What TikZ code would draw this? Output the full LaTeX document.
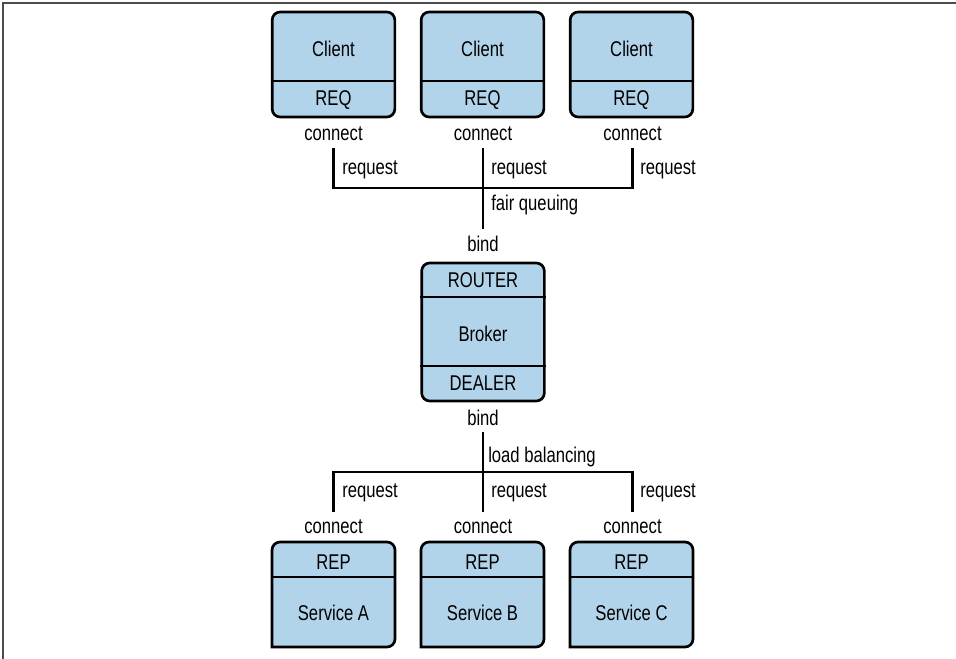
\documentclass[tikz,border=0pt]{standalone}
\usepackage{fontspec}
\setmainfont{Liberation Sans}[FakeStretch=0.78]
\usetikzlibrary{positioning, calc}
\definecolor{sockblue}{RGB}{178,212,234}
\tikzset{
  sockbox/.style={
    rectangle, rounded corners=6pt, draw=black, fill=sockblue,
    line width=2pt, minimum width=92pt
  },
  divider/.style={line width=2pt},
  wire/.style={line width=1.8pt},
  txt/.style={font=\fontsize{16}{18}\selectfont, inner sep=0pt, anchor=base},
  portlbl/.style={txt, inner xsep=0pt, inner ysep=5.25pt}
}

\begin{document}
\begin{tikzpicture}[x=0.75pt, y=-0.75pt]

\useasboundingbox (0,0) rectangle (956,659);
\draw[black!70, line width=1.1pt] (3,659) -- (3,3) -- (956,3);

% Clients
\node[sockbox, minimum height=78.75pt] (boxA) at (333.5,64.5) {};
\node[sockbox, minimum height=78.75pt] (boxB) at (482.5,64.5) {};
\node[sockbox, minimum height=78.75pt] (boxC) at (631.5,64.5) {};
\draw[divider] (boxA.west |- 0,81) -- (boxA.east |- 0,81);
\draw[divider] (boxB.west |- 0,81) -- (boxB.east |- 0,81);
\draw[divider] (boxC.west |- 0,81) -- (boxC.east |- 0,81);
\node[txt] (clientA) at (333.5,57) {Client};
\node[txt] (clientB) at (482.5,57) {Client};
\node[txt] (clientC) at (631.5,57) {Client};
\node[txt] (reqA) at (333.5,106) {REQ};
\node[txt] (reqB) at (482.5,106) {REQ};
\node[txt] (reqC) at (631.5,106) {REQ};
\node[portlbl] (connA) at (333.5,141) {connect};
\node[portlbl] (connB) at (483,141) {connect};
\node[portlbl] (connC) at (632.5,141) {connect};

% Fair queuing into the broker
\node[portlbl] (bindIn) at (483,252) {bind};
\coordinate (fanIn) at (483,188);
\draw[wire] (connA.south) |- (fanIn);
\draw[wire] (connC.south) |- (fanIn);
\draw[wire] (connB.south) -- (bindIn.north);
\node[txt, anchor=base west] (askA) at (342,175) {request};
\node[txt, anchor=base west] (askB) at (491,175) {request};
\node[txt, anchor=base west] (askC) at (640,175) {request};
\node[txt, anchor=base west] (fairq) at (491,211) {fair queuing};

% Broker
\node[sockbox, minimum height=103.5pt] (broker) at (483,332) {};
\draw[divider] (broker.west |- 0,297) -- (broker.east |- 0,297);
\draw[divider] (broker.west |- 0,366) -- (broker.east |- 0,366);
\node[txt] (router) at (483,287) {ROUTER};
\node[txt] (brokerLbl) at (483,341) {Broker};
\node[txt] (dealer) at (483,390) {DEALER};

% Load balancing out of the broker
\node[portlbl] (bindOut) at (483,425) {bind};
\node[portlbl] (connD) at (333.5,533) {connect};
\node[portlbl] (connE) at (483,533) {connect};
\node[portlbl] (connF) at (632.5,533) {connect};
\coordinate (fanOut) at (483,472);
\draw[wire] (connD.north) |- (fanOut);
\draw[wire] (connF.north) |- (fanOut);
\draw[wire] (bindOut.south) -- (connE.north);
\node[txt, anchor=base west] (loadb) at (488,462) {load balancing};
\node[txt, anchor=base west] (askD) at (342,497) {request};
\node[txt, anchor=base west] (askE) at (491,497) {request};
\node[txt, anchor=base west] (askF) at (640,497) {request};

% Services
\draw[sockbox] (272,647) [rounded corners=6pt] -- (272,542) -- (395,542) -- (395,647) [sharp corners] -- cycle;
\draw[sockbox] (421,647) [rounded corners=6pt] -- (421,542) -- (544,542) -- (544,647) [sharp corners] -- cycle;
\draw[sockbox] (570,647) [rounded corners=6pt] -- (570,542) -- (693,542) -- (693,647) [sharp corners] -- cycle;
\draw[divider] (272,577) -- (395,577);
\draw[divider] (421,577) -- (544,577);
\draw[divider] (570,577) -- (693,577);
\node[txt] (repA) at (333.5,569) {REP};
\node[txt] (repB) at (482.5,569) {REP};
\node[txt] (repC) at (631.5,569) {REP};
\node[txt] (svcA) at (333.5,620) {Service A};
\node[txt] (svcB) at (482.5,620) {Service B};
\node[txt] (svcC) at (631.5,620) {Service C};

\end{tikzpicture}
\end{document}
